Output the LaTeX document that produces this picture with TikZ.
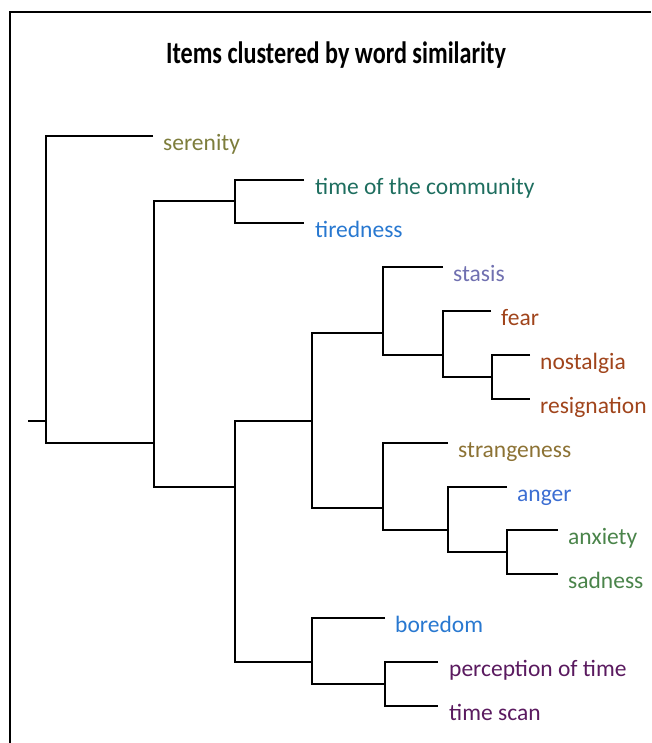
\documentclass[tikz,border=0pt]{standalone}
\usepackage{fontspec}
\setmainfont{Carlito}
\usetikzlibrary{positioning}

\definecolor{cOlive}{HTML}{7D7D3C}
\definecolor{cTeal}{HTML}{1E6E5F}
\definecolor{cBlue}{HTML}{2878D0}
\definecolor{cSlate}{HTML}{7070B0}
\definecolor{cRust}{HTML}{A0441B}
\definecolor{cGold}{HTML}{8C7234}
\definecolor{cRoyal}{HTML}{3C6ED2}
\definecolor{cGreen}{HTML}{4A844A}
\definecolor{cPlum}{HTML}{5A1A5F}

\tikzset{
  branch/.style={line width=2pt, line join=miter},
  leaf/.style={font=\fontsize{23.5}{23.5}\selectfont, anchor=base west, inner sep=0pt}
}

\begin{document}
\begin{tikzpicture}[x=1pt, y=-1pt]
    \useasboundingbox (0,0) rectangle (651,743);
    % frame, cut at right and bottom
    \draw[branch] (10,743) -- (10,12) -- (651,12);
    \node[anchor=base, inner sep=0pt] (title) at (336,63.5)
        {\scalebox{0.78}[1]{\fontsize{31}{31}\selectfont\bfseries Items clustered by word similarity}};

    % merge points
    \coordinate (root) at (46,420.7);
    \coordinate (nA) at (154,442.7);
    \coordinate (nB) at (235,201.5);
    \coordinate (nD) at (235,486.5);
    \coordinate (nE) at (312,420.7);
    \coordinate (nF) at (383,333.0);
    \coordinate (nG) at (443,355.0);
    \coordinate (nH) at (492,376.9);
    \coordinate (nI) at (383,508.4);
    \coordinate (nL) at (448,530.4);
    \coordinate (nM) at (507,552.3);
    \coordinate (nK) at (312,661.9);
    \coordinate (nN) at (385,683.8);

    % leaf line ends
    \coordinate (e0) at (153,135.7);
    \coordinate (e1) at (304,179.6);
    \coordinate (e2) at (304,223.4);
    \coordinate (e3) at (443,267.3);
    \coordinate (e4) at (491,311.1);
    \coordinate (e5) at (530,355.0);
    \coordinate (e6) at (530,398.8);
    \coordinate (e7) at (448,442.7);
    \coordinate (e8) at (507,486.5);
    \coordinate (e9) at (558,530.4);
    \coordinate (e10) at (558,574.2);
    \coordinate (e11) at (385,618.1);
    \coordinate (e12) at (438,661.9);
    \coordinate (e13) at (438,705.8);

    % labels
    \node[leaf, text=cOlive] (serenity) at ([xshift=10pt, yshift=-14.5pt]e0) {serenity};
    \node[leaf, text=cTeal] (community) at ([xshift=11pt, yshift=-14.5pt]e1) {time of the community};
    \node[leaf, text=cBlue] (tiredness) at ([xshift=11pt, yshift=-14.5pt]e2) {tiredness};
    \node[leaf, text=cSlate] (stasis) at ([xshift=10pt, yshift=-14.5pt]e3) {stasis};
    \node[leaf, text=cRust] (fear) at ([xshift=10pt, yshift=-14.5pt]e4) {fear};
    \node[leaf, text=cRust] (nostalgia) at ([xshift=10pt, yshift=-14.5pt]e5) {nostalgia};
    \node[leaf, text=cRust] (resignation) at ([xshift=10pt, yshift=-14.5pt]e6) {resignation};
    \node[leaf, text=cGold] (strangeness) at ([xshift=10pt, yshift=-14.5pt]e7) {strangeness};
    \node[leaf, text=cRoyal] (anger) at ([xshift=10pt, yshift=-14.5pt]e8) {anger};
    \node[leaf, text=cGreen] (anxiety) at ([xshift=10pt, yshift=-14.5pt]e9) {anxiety};
    \node[leaf, text=cGreen] (sadness) at ([xshift=10pt, yshift=-14.5pt]e10) {sadness};
    \node[leaf, text=cBlue] (boredom) at ([xshift=10pt, yshift=-14.5pt]e11) {boredom};
    \node[leaf, text=cPlum] (perception) at ([xshift=11pt, yshift=-14.5pt]e12) {perception of time};
    \node[leaf, text=cPlum] (timescan) at ([xshift=11pt, yshift=-14.5pt]e13) {time scan};

    % tree
    \draw[branch] (root) -- +(-18,0);
    \draw[branch] (e0) -| (root) |- (nA);
    \draw[branch] (nB) -| (nA) |- (nD);
    \draw[branch] (e1) -| (nB) |- (e2);
    \draw[branch] (nE) -| (nD) |- (nK);
    \draw[branch] (nF) -| (nE) |- (nI);
    \draw[branch] (e3) -| (nF) |- (nG);
    \draw[branch] (e4) -| (nG) |- (nH);
    \draw[branch] (e5) -| (nH) |- (e6);
    \draw[branch] (e7) -| (nI) |- (nL);
    \draw[branch] (e8) -| (nL) |- (nM);
    \draw[branch] (e9) -| (nM) |- (e10);
    \draw[branch] (e11) -| (nK) |- (nN);
    \draw[branch] (e12) -| (nN) |- (e13);
\end{tikzpicture}
\end{document}
